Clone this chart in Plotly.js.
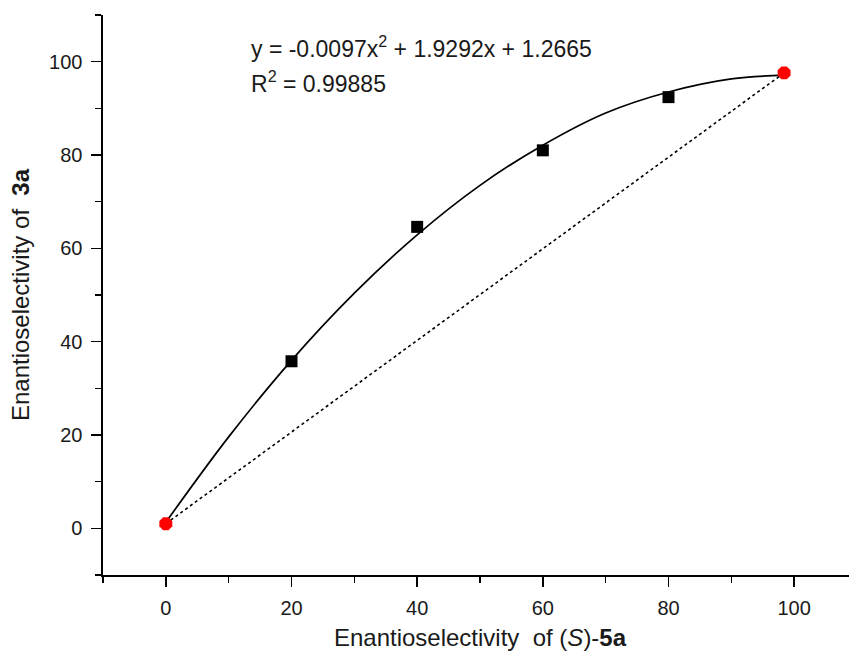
<!DOCTYPE html>
<html>
<head>
<meta charset="utf-8">
<script src="https://cdn.plot.ly/plotly-3.0.1.min.js"></script>
<style>
html,body{margin:0;padding:0;overflow:hidden;background:#fff;}
#chart{width:870px;height:656px;}
</style>
</head>
<body>
<div id="chart"></div>
<script>
// Measured data (black squares)
const xData = [20, 40, 60, 80];
const yData = [35.8, 64.6, 81.0, 92.4];
// Endpoints (red)
const xEnds = [0, 98.4];
const yEnds = [1.0, 97.6];
// Fitted curve
const xCurve = [0, 10, 20, 30, 40, 50, 60, 70, 80, 90, 98.4];
const yCurve = [1.3, 19.6, 36.0, 50.4, 62.9, 73.5, 82.1, 89.0, 93.5, 96.3, 97.1];
// Tick values
const tickVals = [0, 20, 40, 60, 80, 100];
const tickText = ['0', '20', '40', '60', '80', '100'];
const eqLine1 = 'y = -0.0097x<sup>2</sup> + 1.9292x + 1.2665';
const eqLine2 = 'R<sup>2</sup> = 0.99885';

const fontFam = 'Liberation Sans, Arial, sans-serif';

const traces = [
  {x: xEnds, y: yEnds, mode: 'lines', line: {color: '#000', width: 1.6, dash: 'dot'}, hoverinfo: 'skip'},
  {x: xCurve, y: yCurve, mode: 'lines', line: {color: '#000', width: 1.7, shape: 'spline'}, hoverinfo: 'skip'},
  {x: xData, y: yData, mode: 'markers', marker: {symbol: 'square', size: 12, color: '#000'}},
  {x: xEnds, y: yEnds, mode: 'markers', marker: {symbol: 'octagon', size: 14, color: '#f00'}}
];

const axisCommon = {
  range: [-10, 110],
  showgrid: false,
  zeroline: false,
  showline: true,
  linecolor: '#000',
  linewidth: 1.6,
  ticks: 'outside',
  ticklen: 10,
  tickwidth: 1.6,
  tickcolor: '#000',
  tickvals: tickVals,
  ticktext: tickText,
  tickfont: {family: fontFam, size: 20, color: '#1a1a1a'},
  minor: {dtick: 10, ticks: 'outside', ticklen: 6, tickwidth: 1.6, tickcolor: '#000'},
  fixedrange: true
};

function eqAnn(text, yc) {
  return {
    xref: 'paper', yref: 'paper',
    x: (249 - 103) / 754, y: 1 - (yc - 15) / 560,
    xanchor: 'left', yanchor: 'middle', align: 'left',
    showarrow: false,
    text: text,
    font: {family: fontFam, size: 23, color: '#1a1a1a'}
  };
}

const layout = {
  width: 870,
  height: 656,
  margin: {l: 103, r: 13, t: 15, b: 81},
  showlegend: false,
  paper_bgcolor: '#fff',
  plot_bgcolor: '#fff',
  xaxis: Object.assign({}, axisCommon, {
    ticklabelstandoff: 4,
    title: {text: 'Enantioselectivity  of (<i>S</i>)-<b>5a</b>', font: {family: fontFam, size: 24, color: '#1a1a1a'}, standoff: 11}
  }),
  yaxis: Object.assign({}, axisCommon, {
    ticklabelstandoff: 5,
    title: {text: 'Enantioselectivity of  <b>3a</b>', font: {family: fontFam, size: 24, color: '#1a1a1a'}, standoff: 12}
  }),
  annotations: [eqAnn(eqLine1, 47), eqAnn(eqLine2, 82)]
};

Plotly.newPlot('chart', traces, layout, {displayModeBar: false, staticPlot: true});
</script>
</body>
</html>
